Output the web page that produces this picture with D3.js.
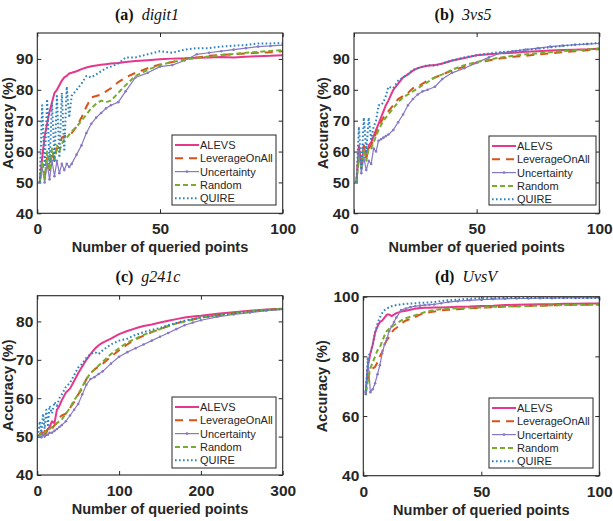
<!DOCTYPE html>
<html>
<head>
<meta charset="utf-8">
<script src="https://cdn.jsdelivr.net/npm/d3@7/dist/d3.min.js"></script>
<style>
  body { margin: 0; background: #fff; }
  svg { display: block; }
  .tick text { font-family: "Liberation Sans", Arial, sans-serif; font-weight: bold; font-size: 15.5px; fill: #262626; }
  .tick line { stroke: #262626; }
  .lbl { font-family: "Liberation Sans", Arial, sans-serif; font-weight: bold; font-size: 14.5px; fill: #262626; }
  .leg { font-family: "Liberation Sans", Arial, sans-serif; font-size: 11px; fill: #262626; }
  .ttl { font-family: "Liberation Serif", "Times New Roman", serif; font-size: 16px; fill: #111; }
</style>
</head>
<body>
<svg width="613" height="521"></svg>
<script>
// ---- data ----
var methods = ["ALEVS", "LeverageOnAll", "Uncertainty", "Random", "QUIRE"];

// query counts (x) for digit1, 3vs5 and UvsV
var gridSmall = [1,2,3,4,5,6,7,8,9,10,11,12,13,14,16,18,20,22,24,26,28,30,33,36,40,45,50,55,60,65,70,75,80,85,90,95,100];
// query counts (x) for g241c
var gridLarge = [1,3,5,7,9,11,13,15,18,21,24,27,30,35,40,45,50,55,60,65,70,75,80,90,100,110,120,130,140,150,160,170,180,190,200,220,240,260,280,300];

var digit1Alevs = [50,58,65,69,73,76,79,80,81.5,83,84,84.5,85.3,85.5,86,86.7,87.2,87.6,87.9,88.1,88.3,88.5,88.7,89,89.3,89.6,89.9,90.1,90.2,90.4,90.5,90.6,90.5,90.7,90.9,91,91.2];
var digit1Leverage = [50,56,52,58,54,60,57,61,62,64.5,65,65,65.5,66,68,71,74.5,77.5,78,78.5,79.5,80.5,82.5,84,85.5,87,88.2,89,90,90.5,91,91.3,91.5,91.8,92,92.2,92.5];
var digit1Uncertainty = [50,55,50,56,51,57,52,57,53,56,54,56,55,56,59,62,66,69,71,72.5,74,75,76,79.5,84,85.5,87.5,88,89.5,91.5,92,92.5,93,93.5,94,94.2,94.5];
var digit1Random = [50,57,51,60,54,61,57,62,60,62.5,64,64.5,65.5,66.5,68,70,72,74,75.5,76.5,76,76.5,79,81.5,84.5,86.5,88,89,89.8,90.3,90.8,91.3,91.6,92,92.3,92.6,92.8];
var digit1Quire = [50,75,55,77,56,76,57,78,58,79,60,81,71,78,80,82,84.5,84,85,86,87,87.5,88.5,90.5,90.5,91.5,92.5,92,93,93.5,93.5,94,94.3,94.5,95,95,95.2];

var vs35Alevs = [50,62,55,62,58,62,63,65,67,69,71,73,75,76.5,80,82,84,85,86.2,87,87.5,87.8,88,88.5,89.5,90.3,91.2,91.5,91.8,92,92.3,92.5,92.7,92.9,93,93.1,93.3];
var vs35Leverage = [50,60,56,62,58,61,62,64,66,68,69.5,71,72,73,75,77,78,79,80.5,81,82,83,84,85,86.2,87.5,88.8,89.5,90.2,90.7,91,91.5,91.8,92.2,92.5,92.8,93.2];
var vs35Uncertainty = [50,60,53,58,54,57,56,61,60,63.5,64,64.5,65,65.5,67,69.5,72,75,77,78.5,79.5,80,81,83.5,85.5,87,88.8,90.5,92,92.5,93,93.5,94,94.3,94.6,94.8,95];
var vs35Random = [50,58,55,61,57,61,61,63,65,67,68.5,70,71,72,74,76,77.5,78.5,79.5,80.5,81.5,82.5,84,85,86.5,88,89,89.8,90.5,91,91.5,91.8,92.2,92.5,92.8,93,93.4];
var vs35Quire = [50,68,54,71,60,71,64,68,70,75,75,76,78,81,80.5,83,84,85,86.5,87,87.5,88,87.8,88.5,89.5,90.5,91.2,91.8,92.2,92.5,93,93.3,93.8,94.2,94.6,94.9,95.2];

var g241cAlevs = [50,50.5,51,51,50.5,51.5,52,52.5,54,53.5,57,58,59.5,61.5,62.5,64.5,66.5,68.3,70,71.5,72.8,73.8,74.5,75.5,76.7,77.5,78.2,78.8,79.2,79.7,80.2,80.6,81,81.3,81.5,82,82.4,82.8,83.1,83.3];
var g241cLeverage = [50,50.5,51,50,51.5,51,52,52.5,52,53,53.5,55,55.5,56,57.5,59,61,62.5,65,66.5,67.5,68.3,69,70.8,72.5,74,75.3,76.3,77.2,78,78.8,79.5,80,80.5,81,81.6,82.2,82.6,83,83.3];
var g241cUncertainty = [50,50,49.8,50.5,50,50.5,50.5,51,51,51.5,52,52.5,53,54,55.5,57,58.5,61,63.5,65,65.5,66.3,67,69,70.8,72,73,74,75,76,77,78,79,79.7,80.3,81.2,81.8,82.3,82.8,83.1];
var g241cRandom = [50,50.5,51,50.5,51,51.5,51.5,52,52.5,53,53.5,54,54.5,56,57.5,59.5,61,63,65,66.5,67.5,68.5,69.5,71.5,73,74.5,75.5,76.5,77.3,78,78.8,79.5,80,80.5,81,81.6,82.1,82.6,83,83.3];
var g241cQuire = [50,54,51,56,52,57,53,58,56,59,58,60,61,63,64,66,68,69,70.5,71.5,72,71.5,72.5,74,75,75.5,76.5,77.2,77.8,78.3,79,79.6,80.2,80.6,81,81.6,82.1,82.6,83,83.2];

var uvsvAlevs = [68,77,81,84,88,90,91.5,92,93,94,94,93.5,94,94.5,95,95.3,95.6,96,96.2,96.3,96.3,96.4,96.4,96.5,96.6,96.7,96.9,97,97.2,97.3,97.4,97.5,97.5,97.6,97.6,97.7,97.7];
var uvsvLeverage = [67,73,75,76,76.5,78,80,81.5,84,85.5,86.5,88,89,89.5,91,92,92.5,93.2,94,94.5,94.8,95,95.4,95.6,95.8,96.1,96.3,96.5,96.7,96.8,96.9,97,97.1,97.2,97.3,97.3,97.4];
var uvsvUncertainty = [68,79,68,69,71,74,77,81,84,86,88.5,90,91.5,93,95.5,96,96.5,96.8,97,97.2,97.3,97.4,97.8,98.2,98.5,98.8,99,99.2,99.3,99.4,99.4,99.5,99.5,99.6,99.6,99.6,99.6];
var uvsvRandom = [68,72,76,78,80,82,83,85,87,88.5,89.3,89.8,90.5,91,92,92.8,93.3,93.8,94.3,94.8,95.2,95.5,95.8,96,96.1,96.3,96.4,96.6,96.7,96.8,96.9,97,97.1,97.2,97.2,97.3,97.3];
var uvsvQuire = [67,80,81,84,88,91,93,94.5,95.5,96,96.5,96.8,97,97.2,97.4,97.6,97.7,97.8,98,98,98.1,98.2,98.5,98.8,99,99.3,99.5,99.5,99.6,99.6,99.6,99.6,99.6,99.6,99.6,99.6,99.6];

var ticks100 = [0, 50, 100];
var ticks300 = [0, 100, 200, 300];

// ---- styles per method ----
var styles = {
  "ALEVS":         { color: "#e6378a", width: 2,   dash: null },
  "LeverageOnAll": { color: "#d95319", width: 2,   dash: "8,6" },
  "Uncertainty":   { color: "#8778c4", width: 1.2, dash: null, dots: true },
  "Random":        { color: "#77ac30", width: 2,   dash: "5,3" },
  "QUIRE":         { color: "#2b82c0", width: 2,   dash: "1.6,2.4" }
};

var panels = [
  { tag: "(a)", name: "digit1", grid: gridSmall,
    series: [digit1Alevs, digit1Leverage, digit1Uncertainty, digit1Random, digit1Quire],
    xDomain: [0, 100], xTicks: ticks100, yDomain: [40, 98.4], yTicks: [40,50,60,70,80,90],
    left: 37.3, right: 282.7, top: 33, bottom: 213.3, titleX: 147, titleY: 20, yLabelX: 8,
    legend: { x: 172, y: 135, w: 104, h: 70 } },
  { tag: "(b)", name: "3vs5", grid: gridSmall,
    series: [vs35Alevs, vs35Leverage, vs35Uncertainty, vs35Random, vs35Quire],
    xDomain: [0, 100], xTicks: ticks100, yDomain: [40, 98.4], yTicks: [40,50,60,70,80,90],
    left: 354, right: 599.3, top: 33, bottom: 213.3, titleX: 463, titleY: 20, yLabelX: 323,
    legend: { x: 489, y: 136, w: 107, h: 69 } },
  { tag: "(c)", name: "g241c", grid: gridLarge,
    series: [g241cAlevs, g241cLeverage, g241cUncertainty, g241cRandom, g241cQuire],
    xDomain: [0, 300], xTicks: ticks300, yDomain: [40, 86.7], yTicks: [40,50,60,70,80],
    left: 37.3, right: 282.7, top: 295.7, bottom: 475, titleX: 148, titleY: 282, yLabelX: 8,
    legend: { x: 172, y: 397, w: 104, h: 71 } },
  { tag: "(d)", name: "UvsV", grid: gridSmall,
    series: [uvsvAlevs, uvsvLeverage, uvsvUncertainty, uvsvRandom, uvsvQuire],
    xDomain: [0, 100], xTicks: ticks100, yDomain: [40, 100], yTicks: [40,60,80,100],
    left: 363.3, right: 599.3, top: 296.7, bottom: 475.7, titleX: 466, titleY: 282, yLabelX: 322,
    legend: { x: 489, y: 398, w: 104, h: 70 } }
];

var svg = d3.select("svg");

panels.forEach(function(p, pi) {
  var g = svg.append("g");

  var x = d3.scaleLinear().domain(p.xDomain).range([p.left, p.right]);
  var y = d3.scaleLinear().domain(p.yDomain).range([p.bottom, p.top]);

  g.append("clipPath").attr("id", "clip" + pi)
    .append("rect")
    .attr("x", p.left).attr("y", p.top)
    .attr("width", p.right - p.left).attr("height", p.bottom - p.top);

  // axes, matlab style: ticks point inward, mirrored on top and right
  var gx = g.append("g").attr("transform", "translate(0," + p.bottom + ")")
    .call(d3.axisBottom(x).tickValues(p.xTicks).tickSizeInner(-4).tickSizeOuter(0).tickPadding(10));
  var gy = g.append("g").attr("transform", "translate(" + p.left + ",0)")
    .call(d3.axisLeft(y).tickValues(p.yTicks).tickSizeInner(-4).tickSizeOuter(0).tickPadding(4));
  var gxt = g.append("g").attr("transform", "translate(0," + p.top + ")")
    .call(d3.axisTop(x).tickValues(p.xTicks).tickSizeInner(-4).tickSizeOuter(0).tickFormat(""));
  var gyr = g.append("g").attr("transform", "translate(" + p.right + ",0)")
    .call(d3.axisRight(y).tickValues(p.yTicks).tickSizeInner(-4).tickSizeOuter(0).tickFormat(""));
  [gx, gy, gxt, gyr].forEach(function(a) { a.select(".domain").remove(); });

  var line = d3.line()
    .x(function(d, i) { return x(p.grid[i]); })
    .y(function(d) { return y(d); });

  var plot = g.append("g").attr("clip-path", "url(#clip" + pi + ")");
  methods.forEach(function(m, k) {
    var st = styles[m];
    plot.append("path")
      .datum(p.series[k])
      .attr("d", line)
      .attr("fill", "none")
      .attr("stroke", st.color)
      .attr("stroke-width", st.width)
      .attr("stroke-dasharray", st.dash)
      .attr("stroke-linejoin", "round");
    if (st.dots) {
      plot.selectAll(null)
        .data(p.series[k])
        .enter().append("circle")
        .attr("cx", function(d, i) { return x(p.grid[i]); })
        .attr("cy", function(d) { return y(d); })
        .attr("r", 1.3)
        .attr("fill", st.color);
    }
  });

  g.append("rect")
    .attr("x", p.left).attr("y", p.top)
    .attr("width", p.right - p.left).attr("height", p.bottom - p.top)
    .attr("fill", "none").attr("stroke", "#262626").attr("stroke-width", 1.1);

  // legend
  var L = p.legend;
  var lg = g.append("g").attr("transform", "translate(" + L.x + "," + L.y + ")");
  lg.append("rect").attr("width", L.w).attr("height", L.h)
    .attr("fill", "#fff").attr("stroke", "#262626").attr("stroke-width", 1);
  methods.forEach(function(m, k) {
    var st = styles[m];
    var ry = 10 + k * 13.3;
    lg.append("line")
      .attr("x1", 3).attr("x2", 27).attr("y1", ry).attr("y2", ry)
      .attr("stroke", st.color).attr("stroke-width", st.width)
      .attr("stroke-dasharray", st.dash);
    if (st.dots) {
      lg.append("circle").attr("cx", 15).attr("cy", ry).attr("r", 1.4).attr("fill", st.color);
    }
    lg.append("text").attr("class", "leg")
      .attr("x", 28).attr("y", ry).attr("dy", "0.36em")
      .text(m);
  });

  // labels
  g.append("text").attr("class", "lbl")
    .attr("x", (p.left + p.right) / 2).attr("y", p.bottom + 39)
    .attr("text-anchor", "middle")
    .text("Number of queried points");
  g.append("text").attr("class", "lbl")
    .attr("transform", "translate(" + p.yLabelX + "," + ((p.top + p.bottom) / 2) + ") rotate(-90)")
    .attr("text-anchor", "middle").attr("dy", "0.36em")
    .text("Accuracy (%)");

  var t = g.append("text").attr("class", "ttl")
    .attr("x", p.titleX).attr("y", p.titleY).attr("text-anchor", "middle");
  t.append("tspan").attr("font-weight", "bold").text(p.tag);
  t.append("tspan").attr("dx", 8).attr("font-style", "italic").text(p.name);
});
</script>
</body>
</html>
